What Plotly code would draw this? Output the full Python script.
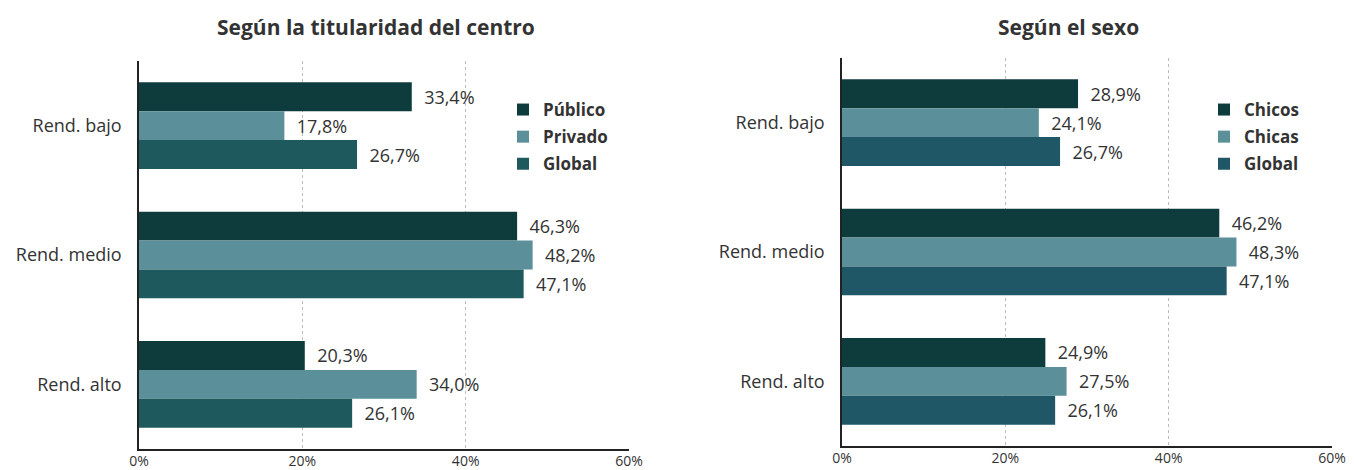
import plotly.graph_objects as go

categories = ["Rend. bajo", "Rend. medio", "Rend. alto"]

# Panel 1: Según la titularidad del centro
publico = [33.4, 46.3, 20.3]
privado = [17.8, 48.2, 34.0]
global_1 = [26.7, 47.1, 26.1]

# Panel 2: Según el sexo
chicos = [28.9, 46.2, 24.9]
chicas = [24.1, 48.3, 27.5]
global_2 = [26.7, 47.1, 26.1]

x_ticks = [0, 20, 40, 60]
x_tick_labels = ["0%", "20%", "40%", "60%"]

title_1 = "Según la titularidad del centro"
title_2 = "Según el sexo"

DARK = "#0e3b3c"
LIGHT = "#5b8f99"
GLOB1 = "#1e5a5d"
GLOB2 = "#1f5766"
FONT = "Open Sans"
TXT = "#333333"

W, H = 1354, 470
OFF = 8  # page body margin in the browser

def px_x(p):
    return (p - OFF) / W

def px_y(p):
    return 1 - (p - OFF) / H

fig = go.Figure()

def add_bar(name, vals, color, xa, ya, leg):
    fig.add_trace(go.Bar(
        name=name, y=categories, x=vals, orientation="h",
        marker=dict(color=color, line=dict(width=0)),
        texttemplate="  %{x:.1f}%", textposition="outside",
        constraintext="none", cliponaxis=False,
        textfont=dict(family=FONT, size=18, color=TXT),
        xaxis=xa, yaxis=ya, legend=leg, legendgroup=leg + name,
        hoverinfo="skip",
    ))

add_bar("Público", publico, DARK, "x", "y", "legend")
add_bar("Privado", privado, LIGHT, "x", "y", "legend")
add_bar("Global", global_1, GLOB1, "x", "y", "legend")
add_bar("Chicos", chicos, DARK, "x2", "y2", "legend2")
add_bar("Chicas", chicas, LIGHT, "x2", "y2", "legend2")
add_bar("Global", global_2, GLOB2, "x2", "y2", "legend2")

xcommon = dict(
    range=[0, 60], tickmode="array", tickvals=x_ticks, ticktext=x_tick_labels,
    showgrid=True, gridcolor="#bdbdbd", griddash="dot", gridwidth=1,
    zeroline=False, showline=True, linecolor="#222222", linewidth=1.5,
    ticks="", ticklabelstandoff=-2, automargin=False,
    tickfont=dict(family=FONT, size=14, color=TXT), fixedrange=True,
)
ycommon = dict(
    autorange="reversed", showgrid=False, zeroline=False,
    showline=True, linecolor="#222222", linewidth=1.5,
    ticks="", ticklabelstandoff=12, automargin=False,
    tickfont=dict(family=FONT, size=18, color=TXT), fixedrange=True,
)

legcommon = dict(
    font=dict(family=FONT, size=17, color=TXT, weight="bold"),
    bgcolor="rgba(0,0,0,0)", borderwidth=0,
    xanchor="left", yanchor="top", traceorder="grouped",
    tracegroupgap=2,
)

fig.update_layout(
    width=W, height=H,
    margin=dict(l=0, r=0, t=0, b=0),
    paper_bgcolor="white", plot_bgcolor="white",
    barmode="group", bargap=0.33, bargroupgap=0,
    separators=",.",
    showlegend=True,
    xaxis=dict(domain=[px_x(139), px_x(629)], anchor="y", **xcommon),
    yaxis=dict(domain=[px_y(449), px_y(61)], anchor="x", **ycommon),
    xaxis2=dict(domain=[px_x(842), px_x(1332)], anchor="y2", **xcommon),
    yaxis2=dict(domain=[px_y(446), px_y(58)], anchor="x2", **ycommon),
    legend=dict(x=px_x(503), y=px_y(92), **legcommon),
    legend2=dict(x=px_x(1204), y=px_y(92), **legcommon),
    annotations=[
        dict(text=title_1, x=px_x(376), y=px_y(27), xref="paper", yref="paper",
             xanchor="center", yanchor="middle", showarrow=False,
             font=dict(family=FONT, size=21, color=TXT, weight="bold")),
        dict(text=title_2, x=px_x(1068), y=px_y(27), xref="paper", yref="paper",
             xanchor="center", yanchor="middle", showarrow=False,
             font=dict(family=FONT, size=21, color=TXT, weight="bold")),
    ],
)

fig.write_html("out.html")
